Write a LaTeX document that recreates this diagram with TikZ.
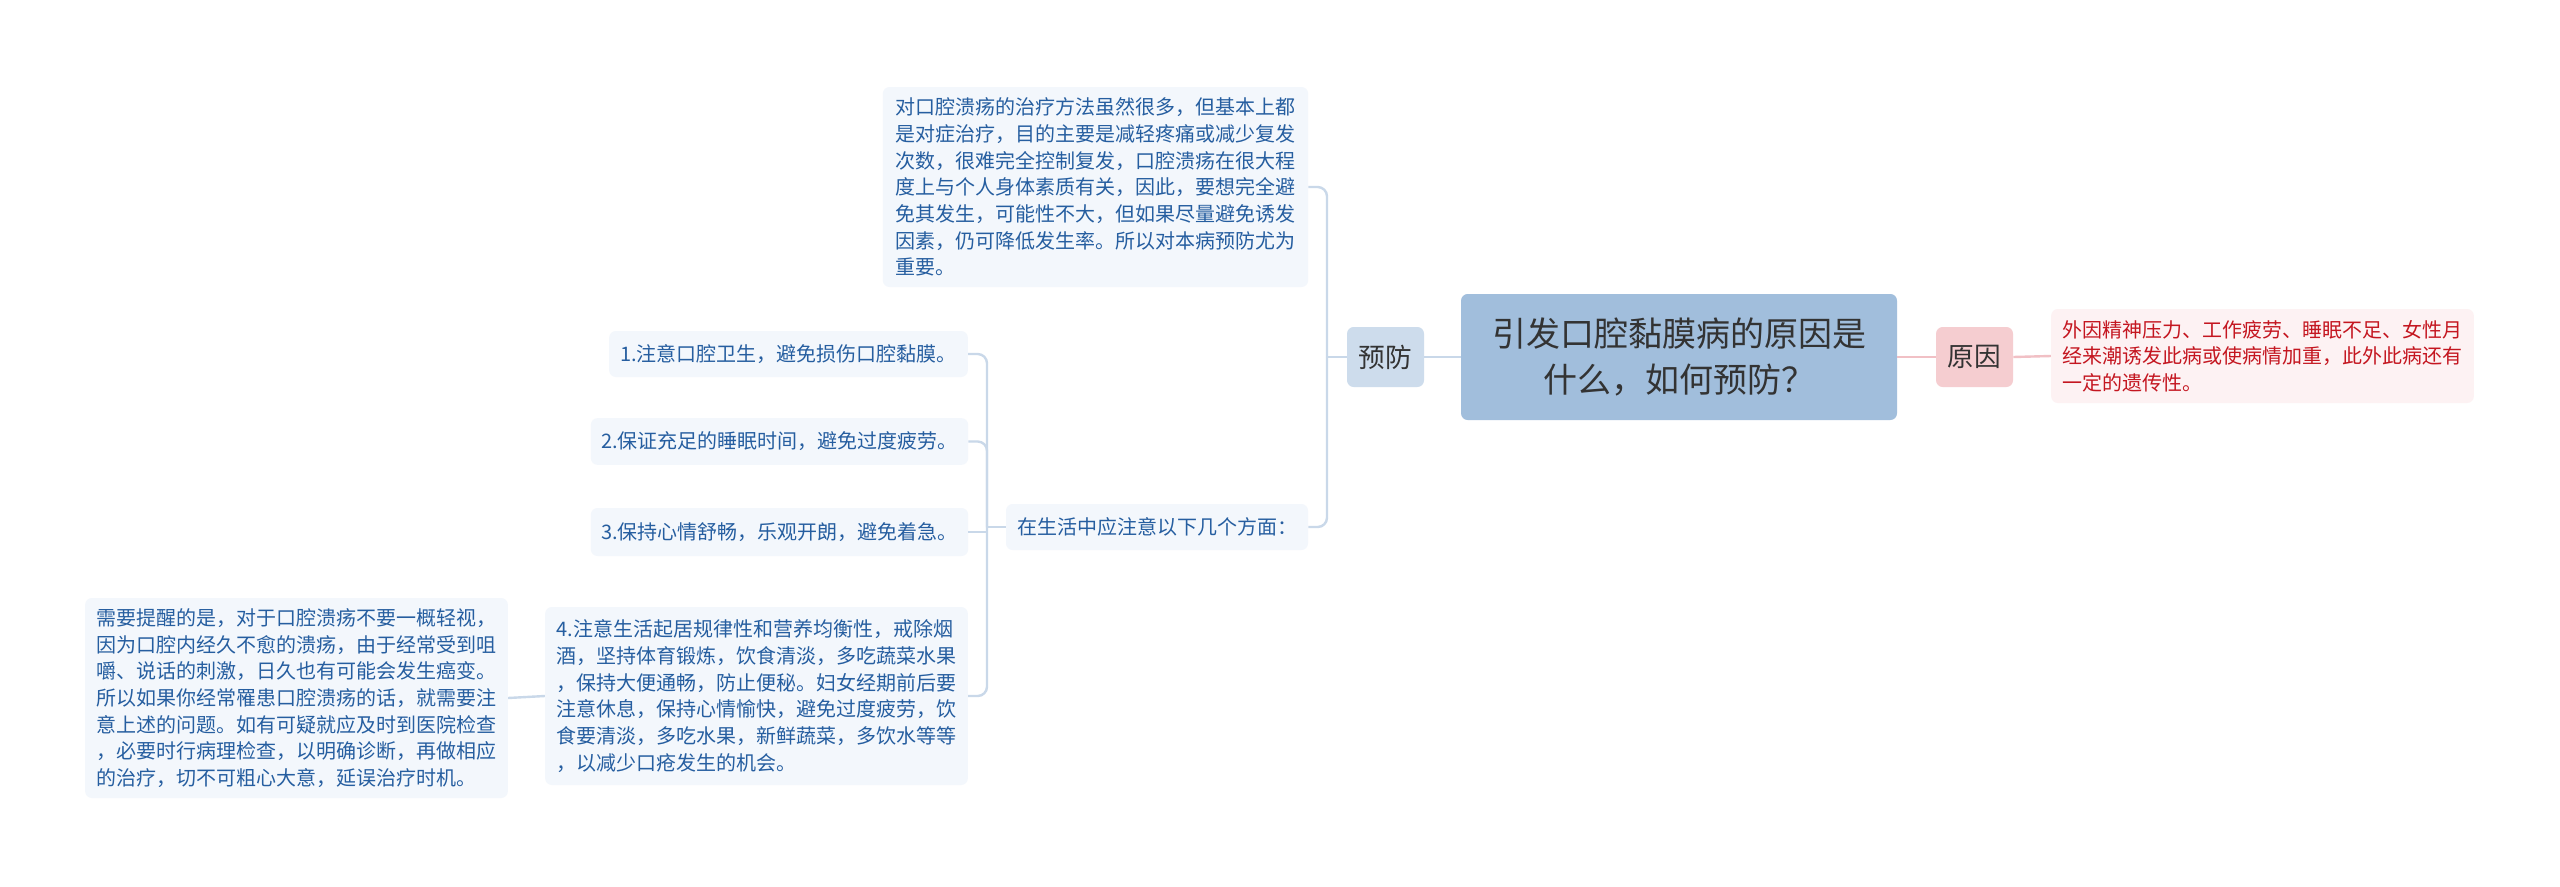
\documentclass[tikz,border=0pt]{standalone}
\usepackage{fontspec}
\setmainfont{Noto Sans CJK SC}
\definecolor{lconn}{RGB}{201,216,233}
\definecolor{rconn}{RGB}{241,192,197}
\definecolor{centfill}{RGB}{161,190,220}
\definecolor{yffill}{RGB}{205,220,236}
\definecolor{yyfill}{RGB}{245,205,208}
\definecolor{notefill}{RGB}{243,247,252}
\definecolor{redfill}{RGB}{253,242,243}
\definecolor{bluetext}{RGB}{38,94,160}
\definecolor{redtext}{RGB}{196,22,32}
\definecolor{darktext}{RGB}{51,51,51}
\tikzset{
  box/.style={rectangle, rounded corners=5pt, inner sep=0pt, align=left},
  bluenote/.style={box, fill=notefill, text=bluetext, font=\fontsize{15pt}{20pt}\selectfont},
  rednote/.style={box, fill=redfill, text=redtext, font=\fontsize{15pt}{20pt}\selectfont},
  lline/.style={draw=lconn, line width=1.8pt, rounded corners=7pt},
  rline/.style={draw=rconn, line width=1.8pt},
}
\begin{document}
\begin{tikzpicture}[x=0.75pt,y=-0.75pt]
\useasboundingbox[fill=white] (0,0) rectangle (2560,886);

% central
\node[box, fill=centfill, text=darktext, align=center, minimum width=327pt, minimum height=94.5pt,
  font=\fontsize{25.5pt}{34.5pt}\selectfont] (c) at (1679,357) {引发口腔黏膜病的原因是\\什么，如何预防？};

% right branch
\node[box, fill=yyfill, text=darktext, minimum width=57.75pt, minimum height=45pt,
  font=\fontsize{20pt}{24pt}\selectfont] (yy) at (1974.5,357) {原因};
\node[rednote, minimum width=317pt, minimum height=70.5pt, text width=300pt] (reason) at (2262.5,356)
  {外因精神压力、工作疲劳、睡眠不足、女性月\\经来潮诱发此病或使病情加重，此外此病还有\\一定的遗传性。};

% left branch
\node[box, fill=yffill, text=darktext, minimum width=57.75pt, minimum height=45pt,
  font=\fontsize{20pt}{24pt}\selectfont] (yf) at (1385.5,357) {预防};

\node[bluenote, minimum width=319pt, minimum height=150pt, text width=300pt] (top) at (1095.5,187)
  {对口腔溃疡的治疗方法虽然很多，但基本上都\\是对症治疗，目的主要是减轻疼痛或减少复发\\次数，很难完全控制复发，口腔溃疡在很大程\\度上与个人身体素质有关，因此，要想完全避\\免其发生，可能性不大，但如果尽量避免诱发\\因素，仍可降低发生率。所以对本病预防尤为\\重要。};

\node[bluenote, minimum width=226.5pt, minimum height=34.5pt] (life) at (1157,527) {在生活中应注意以下几个方面：};

\node[bluenote, minimum width=269pt, minimum height=34.5pt] (i1) at (788.5,354) {1.注意口腔卫生，避免损伤口腔黏膜。};
\node[bluenote, minimum width=283pt, minimum height=35pt] (i2) at (779.5,441.5) {2.保证充足的睡眠时间，避免过度疲劳。};
\node[bluenote, minimum width=283pt, minimum height=36pt] (i3) at (779.5,532) {3.保持心情舒畅，乐观开朗，避免着急。};
\node[bluenote, minimum width=317pt, minimum height=133.5pt, text width=300pt] (i4) at (756.5,696)
  {4.注意生活起居规律性和营养均衡性，戒除烟\\酒，坚持体育锻炼，饮食清淡，多吃蔬菜水果\\，保持大便通畅，防止便秘。妇女经期前后要\\注意休息，保持心情愉快，避免过度疲劳，饮\\食要清淡，多吃水果，新鲜蔬菜，多饮水等等\\，以减少口疮发生的机会。};

\node[bluenote, minimum width=317pt, minimum height=150pt, text width=300pt] (note) at (296.5,698)
  {需要提醒的是，对于口腔溃疡不要一概轻视，\\因为口腔内经久不愈的溃疡，由于经常受到咀\\嚼、说话的刺激，日久也有可能会发生癌变。\\所以如果你经常罹患口腔溃疡的话，就需要注\\意上述的问题。如有可疑就应及时到医院检查\\，必要时行病理检查，以明确诊断，再做相应\\的治疗，切不可粗心大意，延误治疗时机。};

% connectors
\coordinate (b0) at (1327,357);
\coordinate (b1) at (987,527);

\draw[rline] (c.east) -- (yy.west);
\draw[rline] (yy.east) -- (reason.west);
\draw[lline] (c.west) -- (yf.east);
\draw[lline] (yf.west) -- (b0);
\draw[lline] (b0) |- (top.east);
\draw[lline] (b0) |- (life.east);
\draw[lline] (life.west) -- (b1);
\draw[lline] (b1) |- (i1.east);
\draw[lline] (b1) |- (i4.east);
\draw[lline] (b1) |- (i2.east);
\draw[lline] (i3.east) -- (i3.east -| b1);
\draw[lline] (i4.west) -- (note.east);
\end{tikzpicture}
\end{document}
